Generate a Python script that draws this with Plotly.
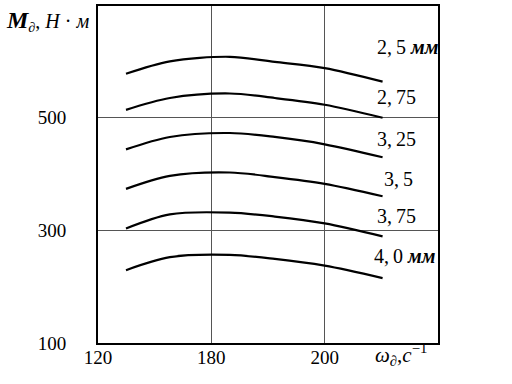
import plotly.graph_objects as go

# x positions on the (non-uniform) omega axis: grid index units, labels 120, 180, 200
x_pos = [0.247, 0.634, 1.163, 1.56, 2.0, 2.511]
tick_pos = [0, 1, 2]
tick_text = ["120", "180", "200"]

m_25 = [577, 599, 607, 598, 587, 563]
m_275 = [513, 534, 542, 534, 522, 499]
m_325 = [443, 465, 472, 465, 452, 429]
m_35 = [373, 396, 402, 394, 382, 360]
m_375 = [303, 328, 331, 324, 312, 289]
m_40 = [229, 252, 256, 249, 237, 215]
series = [m_25, m_275, m_325, m_35, m_375, m_40]

series_labels = ["2,\u20095 <b><i>мм</i></b>", "2,\u200975", "3,\u200925",
                 "3,\u20095", "3,\u200975", "4,\u20090 <b><i>мм</i></b>"]
label_x = [2.44, 2.44, 2.44, 2.51, 2.44, 2.42]
label_y = [625, 535, 461, 391, 325, 255]

y_ticks = [100, 300, 500]

FONT = "Liberation Serif"

fig = go.Figure()
for ys in series:
    fig.add_trace(go.Scatter(x=x_pos, y=ys, mode="lines",
                             line=dict(color="black", width=2.2, shape="spline", smoothing=0.9),
                             showlegend=False, hoverinfo="skip"))

for lx, ly, t in zip(label_x, label_y, series_labels):
    fig.add_annotation(x=lx, y=ly, xref="x", yref="y", text=t, showarrow=False,
                       xanchor="left", yanchor="middle",
                       font=dict(family=FONT, size=20, color="black"))

fig.update_layout(
    width=512, height=384,
    margin=dict(l=98, r=74, t=4, b=41),
    paper_bgcolor="white", plot_bgcolor="white",
    hovermode=False,
    font=dict(family=FONT, size=19, color="black"),
    xaxis=dict(range=[0, 3], tickmode="array", tickvals=tick_pos, ticktext=tick_text,
               showgrid=True, gridcolor="#555", gridwidth=1, zeroline=False,
               showline=True, linecolor="black", linewidth=2, mirror=True, ticks="",
               ticklabelstandoff=-4),
    yaxis=dict(range=[100, 697], tickmode="array", tickvals=y_ticks,
               showgrid=True, gridcolor="#555", gridwidth=1, zeroline=False,
               showline=True, linecolor="black", linewidth=2, mirror=True, ticks="",
               ticklabelstandoff=26),
)

# axis titles as positioned text (paper coords are relative to the plot area)
fig.add_annotation(x=(4 - 98) / 340, y=1 - (19 - 4) / 339, xref="paper", yref="paper",
                   text="<b><i><span style='font-size:24px'>M</span></i></b><sub>∂</sub>, <i>H</i> · <i>м</i>",
                   showarrow=False, xanchor="left", yanchor="middle",
                   font=dict(family=FONT, size=20, color="black"))
fig.add_annotation(xref="paper", yref="paper", x=(373 - 98) / 340, y=-(355 - 343) / 339,
                   text="<i>ω</i><sub>∂</sub>,<i>c</i><sup>−1</sup>", showarrow=False,
                   xanchor="left", yanchor="middle",
                   font=dict(family=FONT, size=21, color="black"))

fig.write_html("out.html", config={"displayModeBar": False},
               post_script="document.body.style.margin='0';")
